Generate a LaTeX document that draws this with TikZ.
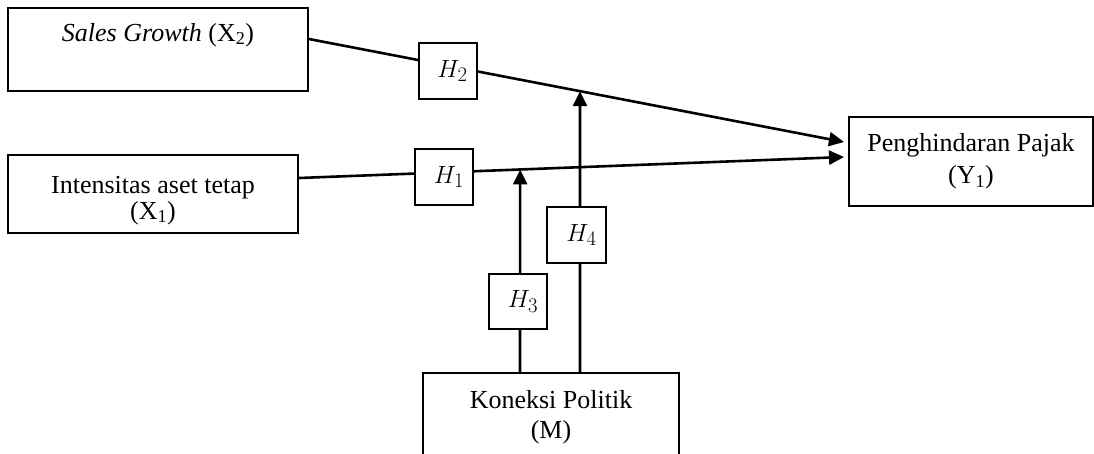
\documentclass[tikz,border=0pt]{standalone}
\usepackage{fontspec}
\setmainfont{Liberation Serif}
\usetikzlibrary{arrows.meta,calc}
\newcommand\diagtxt{\fontsize{26}{30}\selectfont}
\newcommand\diagmath{\fontsize{30}{32}\selectfont}
\begin{document}
\begin{tikzpicture}[x=1pt,y=-1pt,
  box/.style={draw,line width=2pt,align=center,inner sep=0pt,font=\diagtxt},
  hbox/.style={draw,fill=white,line width=2pt,inner sep=0pt,minimum width=58pt,minimum height=56pt,font=\diagmath},
  conn/.style={line width=2.6pt},
  arr/.style={conn,-{Triangle[length=15pt,width=14pt]}}]
\clip (0,0) rectangle (1094,453);
% main boxes
\node[box,minimum width=300pt,minimum height=83pt] (sg) at (158,49.5) {\textit{Sales Growth} (X\textsubscript{2})\\[-4pt] \strut};
\node[box,minimum width=290pt,minimum height=78pt] (ia) at (153,194) {\rule{0pt}{30pt}Intensitas aset tetap\\[-4pt](X\textsubscript{1})};
\node[box,minimum width=244pt,minimum height=89pt] (pp) at (971,161.5) {Penghindaran Pajak\\[2pt](Y\textsubscript{1})};
\node[box,minimum width=256pt,minimum height=88pt] (km) at (551,417) {Koneksi Politik\\(M)};
% connector end points
\coordinate (sgE) at ([yshift=10.5pt]sg.east);
\coordinate (iaE) at ([yshift=16pt]ia.east);
\coordinate (ppA) at ([xshift=-4pt,yshift=19.5pt]pp.west);
\coordinate (ppB) at ([xshift=-4pt,yshift=4.5pt]pp.west);
\coordinate (t3) at ($(iaE)!0.40585!(ppB)$);
\coordinate (t4) at ($(sgE)!0.50652!(ppA)$);
\coordinate (k3) at ([xshift=-31pt]km.north);
\coordinate (k4) at ([xshift=29pt]km.north);
% connectors
\draw[arr] (sgE) -- (ppA);
\draw[arr] (iaE) -- (ppB);
\draw[arr] (k3) -- (t3);
\draw[arr] (k4) -- (t4);
% hypothesis boxes
\node[hbox] (h2) at (447.5,71) {\hspace*{10pt}$H_2$};
\node[hbox] (h1) at (444,177) {\hspace*{10pt}$H_1$};
\node[hbox,minimum height=55pt] (h3) at (518,301.5) {\hspace*{10pt}$H_3$};
\node[hbox,minimum width=59pt] (h4) at (576.5,235) {\hspace*{10pt}$H_4$};
\end{tikzpicture}
\end{document}
